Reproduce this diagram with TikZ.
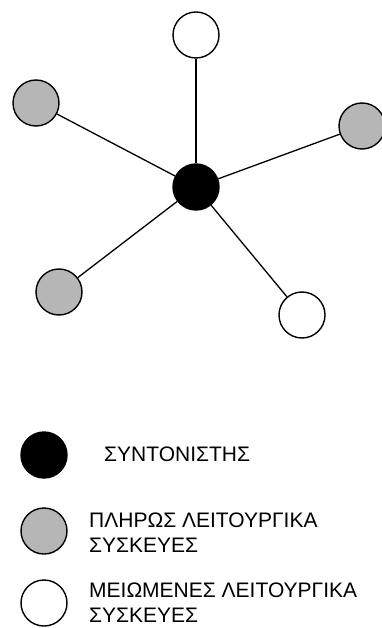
\documentclass[tikz,border=0pt]{standalone}
\usepackage{fontspec}
\setmainfont{Liberation Sans}
\usetikzlibrary{positioning}
\definecolor{devgray}{RGB}{182,182,182}

\begin{document}
\begin{tikzpicture}[x=1pt,y=-1pt,
  dev/.style={circle,draw,line width=1.4pt,minimum size=46pt,inner sep=0pt},
  hub/.style={dev,fill=black},
  full/.style={dev,fill=devgray},
  reduced/.style={dev,fill=white},
  link/.style={line width=1.3pt},
  lbl/.style={anchor=base west,inner sep=0pt,align=left,font=\fontsize{21}{25}\selectfont}]
\useasboundingbox (0,0) rectangle (382,628);
\clip (0,0) rectangle (382,628);
% ---- star network ----
\node[hub] (coord) at (196,187) {};
\node[reduced] (topdev) at (196,35) {};
\node[full] (leftdev) at (36,103) {};
\node[full] (rightdev) at (362,126) {};
\node[full] (lowleftdev) at (59,292) {};
\node[reduced] (lowrightdev) at (302,315) {};
\draw[link] (coord) -- (topdev);
\draw[link] (coord) -- (leftdev);
\draw[link] (coord) -- (rightdev);
\draw[link] (coord) -- (lowleftdev);
\draw[link] (coord) -- (lowrightdev);
% ---- legend ----
\node[hub] (keyhub) at (44,455) {};
\node[full] (keyfull) at (44,531) {};
\node[reduced] (keyreduced) at (44,603) {};
% text nodes are anchored at the baseline of their last line
\node[lbl] (txthub) at (104,461) {ΣΥΝΤΟΝΙΣΤΗΣ};
\node[lbl] (txtfull) at (89,552) {ΠΛΗΡΩΣ ΛΕΙΤΟΥΡΓΙΚΑ\\ΣΥΣΚΕΥΕΣ};
\node[lbl] (txtreduced) at (89,622) {ΜΕΙΩΜΕΝΕΣ ΛΕΙΤΟΥΡΓΙΚΑ\\ΣΥΣΚΕΥΕΣ};
\end{tikzpicture}
\end{document}
